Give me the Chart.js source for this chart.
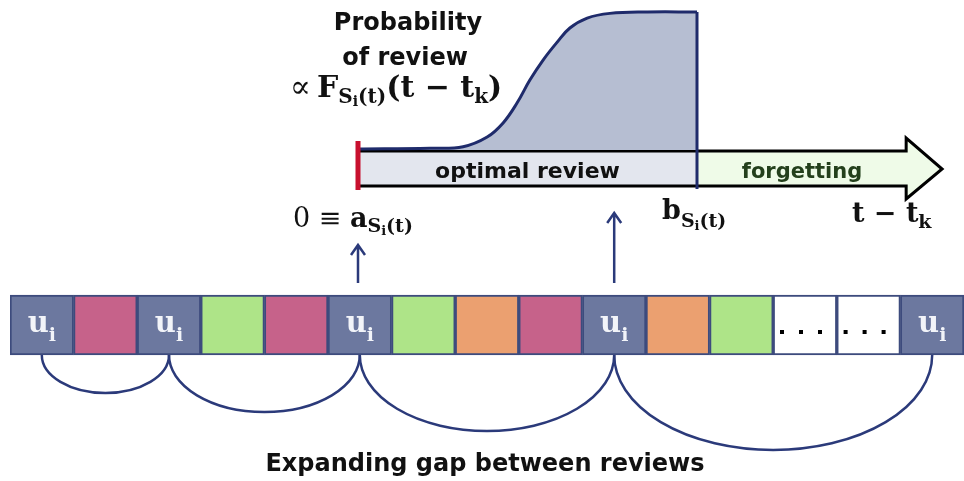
<!DOCTYPE html>
<html>
<head>
<meta charset="utf-8">
<script src="https://cdn.jsdelivr.net/npm/chart.js@4.4.1/dist/chart.umd.min.js"></script>
<style>
  body { margin: 0; background: #fff; }
  canvas { display: block; }
</style>
</head>
<body>
<canvas id="chart" width="964" height="481"></canvas>
<script>
// sequence of studied items, u = the item being reviewed
const cellKinds = ["u", "pink", "u", "green", "pink", "u", "green", "orange", "pink", "u", "orange", "green", "dots", "dots", "u"];
const reviewIdx = [0, 2, 5, 9, 14];

// probability of review curve, t - t_k scaled so a = 0 and b = 1
const curveT = [0, 0.212, 0.31, 0.381, 0.428, 0.469, 0.507, 0.546, 0.587, 0.625, 0.676, 0.743, 0.853, 1.0];
const curveP = [0.008, 0.013, 0.024, 0.094, 0.196, 0.34, 0.507, 0.652, 0.78, 0.884, 0.956, 0.99, 1.0, 1.0];

const cellColors = {
  u: "#6c789f",
  pink: "#c6628a",
  green: "#aee488",
  orange: "#eba070",
  dots: "#ffffff",
};

const NAVY = "#1f2b6b";
const STRIP_TOP = 295;
const STRIP_BOTTOM = 355;
const ARC_DEPTH = 19; // px per cell of gap

const SANS = "'DejaVu Sans'";
const SERIF = "'DejaVu Serif'";

function drawRuns(ctx, x, y, runs, align) {
  let w = 0;
  runs.forEach((r) => {
    ctx.font = r.font;
    r.w = ctx.measureText(r.text).width;
    w += r.w + (r.gap || 0);
  });
  let cx = align === "center" ? x - w / 2 : x;
  runs.forEach((r) => {
    ctx.font = r.font;
    ctx.fillText(r.text, cx, y + (r.dy || 0));
    cx += r.w + (r.gap || 0);
  });
}

function upArrow(ctx, x, yTop, yBottom) {
  ctx.beginPath();
  ctx.moveTo(x, yBottom);
  ctx.lineTo(x, yTop);
  ctx.moveTo(x - 7, yTop + 10);
  ctx.lineTo(x, yTop);
  ctx.lineTo(x + 7, yTop + 10);
  ctx.stroke();
}

const diagram = {
  id: "diagram",
  beforeDatasetsDraw(chart) {
    const ctx = chart.ctx;
    const xt = chart.scales.xt;
    const a = xt.getPixelForValue(0);
    const b = xt.getPixelForValue(1);
    const bodyEnd = xt.getPixelForValue(1.617);
    const tip = xt.getPixelForValue(1.723);
    ctx.save();
    ctx.beginPath();
    ctx.moveTo(a, 151);
    ctx.lineTo(bodyEnd, 151);
    ctx.lineTo(bodyEnd, 138);
    ctx.lineTo(tip, 169);
    ctx.lineTo(bodyEnd, 199);
    ctx.lineTo(bodyEnd, 186);
    ctx.lineTo(a, 186);
    ctx.closePath();
    ctx.fillStyle = "#effbe8";
    ctx.fill();
    ctx.save();
    ctx.clip();
    ctx.fillStyle = "#e3e6ee";
    ctx.fillRect(a, 140, b - a, 50);
    ctx.restore();
    ctx.lineWidth = 3;
    ctx.strokeStyle = "#000";
    ctx.lineJoin = "miter";
    ctx.stroke();

    ctx.fillStyle = "#111";
    ctx.textBaseline = "alphabetic";
    drawRuns(ctx, (a + b) / 2, 178, [{ text: "optimal review", font: `bold 22px ${SANS}` }], "center");
    ctx.fillStyle = "#24401c";
    drawRuns(ctx, 802, 178, [{ text: "forgetting", font: `bold 21px ${SANS}` }], "center");
    ctx.restore();
  },
  afterDatasetsDraw(chart) {
    const ctx = chart.ctx;
    const xt = chart.scales.xt;
    const x = chart.scales.x;
    const y = chart.scales.y;
    const a = xt.getPixelForValue(0);
    const b = xt.getPixelForValue(1);
    ctx.save();

    // b boundary and a marker
    ctx.strokeStyle = NAVY;
    ctx.lineWidth = 3;
    ctx.beginPath();
    ctx.moveTo(b, chart.scales.yp.getPixelForValue(1));
    ctx.lineTo(b, 189);
    ctx.stroke();
    ctx.fillStyle = "#c8102e";
    ctx.fillRect(a - 2.5, 141, 5, 49);

    // gaps between reviews
    ctx.strokeStyle = "#2b3a7a";
    ctx.lineWidth = 2.5;
    const base = y.getPixelForValue(STRIP_BOTTOM);
    for (let k = 0; k < reviewIdx.length - 1; k++) {
      const x1 = x.getPixelForValue(reviewIdx[k]);
      const x2 = x.getPixelForValue(reviewIdx[k + 1]);
      const gap = reviewIdx[k + 1] - reviewIdx[k];
      ctx.beginPath();
      ctx.ellipse((x1 + x2) / 2, base, (x2 - x1) / 2, ARC_DEPTH * gap, 0, 0, Math.PI);
      ctx.stroke();
    }

    // arrows up to the time axis
    ctx.lineWidth = 2.5;
    upArrow(ctx, a, 245, 283);
    upArrow(ctx, x.getPixelForValue(reviewIdx[3]), 213, 283);

    // cell labels
    cellKinds.forEach((kind, i) => {
      const cx = x.getPixelForValue(i);
      if (kind === "u") {
        ctx.fillStyle = "#f2f4f9";
        drawRuns(ctx, cx, 332, [
          { text: "u", font: `bold 29px ${SERIF}` },
          { text: "i", font: `bold 19px ${SERIF}`, dy: 9 },
        ], "center");
      } else if (kind === "dots") {
        ctx.fillStyle = "#000";
        [-23, -4, 15].forEach((d) => ctx.fillRect(cx + d - 2, 330, 4, 4));
      }
    });

    // texts
    ctx.fillStyle = "#111";
    drawRuns(ctx, 408, 30, [{ text: "Probability", font: `bold 24px ${SANS}` }], "center");
    drawRuns(ctx, 405, 65, [{ text: "of review", font: `bold 24px ${SANS}` }], "center");
    drawRuns(ctx, 290, 97, [
      { text: "∝", font: `31px ${SERIF}`, gap: 6 },
      { text: "F", font: `bold 30px ${SERIF}` },
      { text: "S", font: `bold 20px ${SERIF}`, dy: 6 },
      { text: "i", font: `bold 14px ${SERIF}`, dy: 9 },
      { text: "(t)", font: `bold 20px ${SERIF}`, dy: 6 },
      { text: "(t − t", font: `bold 30px ${SERIF}` },
      { text: "k", font: `bold 20px ${SERIF}`, dy: 6 },
      { text: ")", font: `bold 30px ${SERIF}` },
    ]);
    drawRuns(ctx, 293, 227, [
      { text: "0 ≡ ", font: `27px ${SERIF}` },
      { text: "a", font: `bold 27px ${SERIF}` },
      { text: "S", font: `bold 19px ${SERIF}`, dy: 5 },
      { text: "i", font: `bold 13px ${SERIF}`, dy: 8 },
      { text: "(t)", font: `bold 19px ${SERIF}`, dy: 5 },
    ]);
    drawRuns(ctx, 662, 219, [
      { text: "b", font: `bold 27px ${SERIF}` },
      { text: "S", font: `bold 19px ${SERIF}`, dy: 8 },
      { text: "i", font: `bold 13px ${SERIF}`, dy: 11 },
      { text: "(t)", font: `bold 19px ${SERIF}`, dy: 8 },
    ]);
    drawRuns(ctx, 852, 222, [
      { text: "t − t", font: `bold 27px ${SERIF}` },
      { text: "k", font: `bold 19px ${SERIF}`, dy: 6 },
    ]);
    drawRuns(ctx, 485, 471, [{ text: "Expanding gap between reviews", font: `bold 24px ${SANS}` }], "center");
    ctx.restore();
  },
};

const ctx = document.getElementById("chart").getContext("2d");
new Chart(ctx, {
  data: {
    labels: cellKinds.map((k, i) => String(i)),
    datasets: [
      {
        type: "bar",
        xAxisID: "x",
        yAxisID: "y",
        data: cellKinds.map(() => [STRIP_TOP, STRIP_BOTTOM]),
        backgroundColor: cellKinds.map((k) => cellColors[k]),
        borderColor: "#3d4b7d",
        borderWidth: 2,
        borderSkipped: false,
        grouped: false,
        barPercentage: 1,
        categoryPercentage: 1,
      },
      {
        type: "line",
        xAxisID: "xt",
        yAxisID: "yp",
        data: curveT.map((t, i) => ({ x: t, y: curveP[i] })),
        borderColor: NAVY,
        borderWidth: 3,
        backgroundColor: "#b6bed2",
        fill: "origin",
        pointRadius: 0,
        tension: 0.4,
      },
    ],
  },
  options: {
    responsive: false,
    animation: false,
    devicePixelRatio: 1,
    layout: { padding: { left: 10, right: 0, top: 0, bottom: 0 } },
    plugins: { legend: { display: false }, tooltip: { enabled: false } },
    scales: {
      x: { type: "category", display: false, offset: true },
      xt: { type: "linear", display: false, min: -348 / 339, max: 606 / 339 },
      y: { type: "linear", display: false, reverse: true, min: 0, max: 481 },
      yp: { type: "linear", display: false, min: 150 / 138 - 481 / 138, max: 150 / 138 },
    },
  },
  plugins: [diagram],
});
</script>
</body>
</html>
